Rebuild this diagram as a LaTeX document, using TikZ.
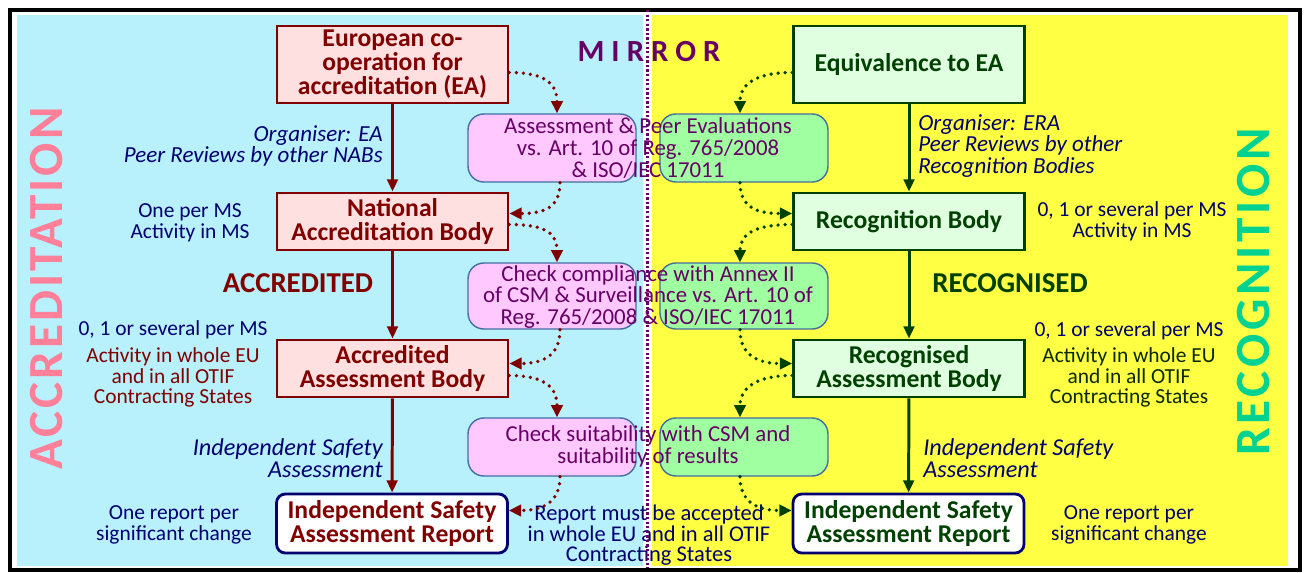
\documentclass[tikz,border=0pt]{standalone}
\usepackage{fontspec}
\setmainfont{Carlito}
\usetikzlibrary{arrows.meta,calc}

\definecolor{accbg}{RGB}{184,240,252}
\definecolor{recbg}{RGB}{255,255,68}
\definecolor{accred}{RGB}{128,0,0}
\definecolor{accpink}{RGB}{255,224,224}
\definecolor{recgrn}{RGB}{0,64,0}
\definecolor{recfill}{RGB}{224,255,224}
\definecolor{midpk}{RGB}{255,200,255}
\definecolor{midgn}{RGB}{160,255,160}
\definecolor{midline}{RGB}{70,110,160}
\definecolor{mirpurple}{RGB}{102,0,102}
\definecolor{notenavy}{RGB}{0,0,110}
\definecolor{bigpink}{RGB}{255,128,152}
\definecolor{bigteal}{RGB}{0,210,145}
\definecolor{notedark}{RGB}{10,40,10}

\newcommand\bxfont{\fontsize{14.6}{13.7}\selectfont}
\newcommand\ntfont{\fontsize{12.2}{11.8}\selectfont}
\newcommand\itfont{\fontsize{13.1}{12.2}\selectfont\itshape}
\newcommand\mdfont{\fontsize{13}{12.5}\selectfont}

\tikzset{
  redbox/.style={draw=accred, fill=accpink, line width=1.6pt, minimum width=4.62cm,
    text=accred, font=\bxfont\bfseries, align=center, inner sep=0pt},
  grnbox/.style={redbox, draw=recgrn, fill=recfill, text=recgrn},
  repbox/.style={redbox, draw=notenavy, fill=white, rounded corners=5pt},
  midbox/.style={draw=midline, line width=0.8pt, rounded corners=9pt, minimum width=3.36cm, inner sep=0pt},
  midtxt/.style={text=mirpurple, font=\mdfont, align=center, inner sep=0pt},
  note/.style={text=notenavy, font=\ntfont, align=center, inner sep=0pt},
  flowred/.style={draw=accred, line width=1.7pt, -{Triangle[length=7pt,width=6pt]}},
  flowgrn/.style={flowred, draw=recgrn},
  dotred/.style={draw=accred, line width=2.1pt, line cap=round, dash pattern=on 0pt off 4pt,
    -{Triangle[length=7pt,width=6.5pt]}},
  dotgrn/.style={dotred, draw=recgrn},
}

\begin{document}
\begin{tikzpicture}[x=0.02cm, y=-0.02cm]
\useasboundingbox (0,0) rectangle (1304,572);
% two halves
\fill[accbg] (17,15) rectangle (643,566);
\fill[recbg] (652,15) rectangle (1288,566);
\draw[line width=2.8pt] (10,10) rectangle (1300,570);

\node[rotate=90, text=bigpink, font=\fontsize{28}{30}\selectfont\bfseries\addfontfeature{LetterSpace=6}] (acctitle) at (47,288.5) {ACCREDITATION};
\node[rotate=90, text=bigteal, font=\fontsize{28}{30}\selectfont\bfseries\addfontfeature{LetterSpace=7.5}] (rectitle) at (1254,292) {RECOGNITION};
\node[text=mirpurple, font=\fontsize{17.5}{19}\selectfont\bfseries\addfontfeature{LetterSpace=23}] (mirror) at (649,52) {MIRROR};

% accreditation chain
\node[redbox, minimum height=1.54cm] (ea) at (392.5,64.5) {European co-\\operation for\\accreditation (EA)};
\node[redbox, minimum height=1.14cm] (nab) at (392.5,221.5) {National\\Accreditation Body};
\node[redbox, minimum height=1.14cm] (aab) at (392.5,368.5) {Accredited\\Assessment Body};
\node[repbox, minimum height=1.18cm] (isal) at (392,523.5) {Independent Safety\\Assessment Report};

% recognition chain
\node[grnbox, minimum height=1.54cm] (eqea) at (909,64.5) {Equivalence to EA};
\node[grnbox, minimum height=1.14cm] (rb) at (909,221.5) {Recognition Body};
\node[grnbox, minimum height=1.14cm] (rab) at (909,368.5) {Recognised\\Assessment Body};
\node[repbox, text=recgrn, minimum height=1.18cm] (isar) at (908.5,523.5) {Independent Safety\\Assessment Report};

% mirrored checks
\node[midbox, fill=midpk, minimum height=1.36cm] (pkA) at (552,148) {};
\node[midbox, fill=midgn, minimum height=1.36cm] (gnA) at (744,148) {};
\node[midbox, fill=midpk, minimum height=1.32cm] (pkB) at (552,296) {};
\node[midbox, fill=midgn, minimum height=1.32cm] (gnB) at (744,296) {};
\node[midbox, fill=midpk, minimum height=1.16cm] (pkC) at (552,447) {};
\node[midbox, fill=midgn, minimum height=1.16cm] (gnC) at (744,447) {};
\node[midtxt] (txA) at (648,148) {Assessment \& Peer Evaluations\\vs. Art. 10 of Reg. 765/2008\\\& ISO/IEC 17011};
\node[midtxt] (txB) at (648,297) {Check compliance with Annex II\\of CSM \& Surveillance vs. Art. 10 of\\Reg. 765/2008 \& ISO/IEC 17011};
\node[midtxt] (txC) at (648,446.5) {Check suitability with CSM and\\suitability of results};
\node[note, font=\fontsize{12.8}{11.7}\selectfont] (accept) at (649,535.5) {Report must be accepted\\in whole EU and in all OTIF\\Contracting States};

% notes left
\node[note, align=right, anchor=east, font=\itfont] (orgea) at (383,146) {Organiser: EA\\Peer Reviews by other NABs};
\node[note] (onems) at (190,222.5) {One per MS\\Activity in MS};
\node[text=accred, font=\fontsize{16.4}{18}\selectfont\bfseries] (accd) at (298,283) {ACCREDITED};
\node[note] (sevl) at (173,330) {0, 1 or several per MS};
\node[note, text=accred] (actl) at (173,377.5) {Activity in whole EU\\and in all OTIF\\Contracting States};
\node[note, align=right, anchor=east, font=\fontsize{13.8}{12.5}\selectfont\itshape] (isasl) at (383,458) {Independent Safety\\Assessment};
\node[note] (onerl) at (174,525) {One report per\\significant change};

% notes right
\node[note, align=left, anchor=west, font=\itfont] (orgera) at (918,146) {Organiser: ERA\\Peer Reviews by other\\Recognition Bodies};
\node[note] (sevr) at (1132,221.5) {0, 1 or several per MS\\Activity in MS};
\node[text=recgrn, font=\fontsize{16.4}{18}\selectfont\bfseries] (recd) at (1010,283) {RECOGNISED};
\node[note] (sevr2) at (1129,331) {0, 1 or several per MS};
\node[note, text=notedark] (actr) at (1129,377.5) {Activity in whole EU\\and in all OTIF\\Contracting States};
\node[note, align=left, anchor=west, font=\fontsize{13.8}{12.5}\selectfont\itshape] (isasr) at (923,458) {Independent Safety\\Assessment};
\node[note] (onerr) at (1129,525) {One report per\\significant change};

% main flow
\draw[flowred] (ea) -- (nab);
\draw[flowred] (nab) -- (aab);
\draw[flowred] (aab) -- (isal);
\draw[flowgrn] (eqea) -- (rb);
\draw[flowgrn] (rb) -- (rab);
\draw[flowgrn] (rab) -- (isar);

% dotted loops through the checks
\draw[dotred] ($(ea.east)+(0,8)$) .. controls +(38,0) and +(0,-28) .. ($(pkA.north)+(5,0)$);
\draw[dotred] ($(pkA.south)+(8,0)$) .. controls +(0,25) and +(35,0) .. ($(nab.east)+(0,-8)$);
\draw[dotred] ($(nab.east)+(0,3)$) .. controls +(38,0) and +(0,-28) .. ($(pkB.north)+(5,0)$);
\draw[dotred] ($(pkB.south)+(8,0)$) .. controls +(0,25) and +(35,0) .. ($(aab.east)+(0,-5)$);
\draw[dotred] ($(aab.east)+(0,7)$) .. controls +(38,0) and +(0,-28) .. ($(pkC.north)+(5,0)$);
\draw[dotred] ($(pkC.south)+(8,0)$) .. controls +(0,25) and +(35,0) .. ($(isal.east)+(0,-13)$);
\draw[dotgrn] ($(eqea.west)+(0,8)$) .. controls +(-38,0) and +(0,-28) .. ($(gnA.north)+(-4,0)$);
\draw[dotgrn] ($(gnA.south)+(-4,0)$) .. controls +(0,25) and +(-35,0) .. ($(rb.west)+(0,-8)$);
\draw[dotgrn] ($(rb.west)+(0,3)$) .. controls +(-38,0) and +(0,-28) .. ($(gnB.north)+(-4,0)$);
\draw[dotgrn] ($(gnB.south)+(-4,0)$) .. controls +(0,25) and +(-35,0) .. ($(rab.west)+(0,-5)$);
\draw[dotgrn] ($(rab.west)+(0,7)$) .. controls +(-38,0) and +(0,-28) .. ($(gnC.north)+(-4,0)$);
\draw[dotgrn] ($(gnC.south)+(-4,0)$) .. controls +(0,25) and +(-35,0) .. ($(isar.west)+(0,-13)$);

% mirror line
\coordinate (mtop) at (647,10);
\coordinate (mbot) at (647,568);
\draw[mirpurple, line width=1.7pt, dash pattern=on 1.3pt off 1.3pt] (mtop) -- (mbot);
\end{tikzpicture}
\end{document}
